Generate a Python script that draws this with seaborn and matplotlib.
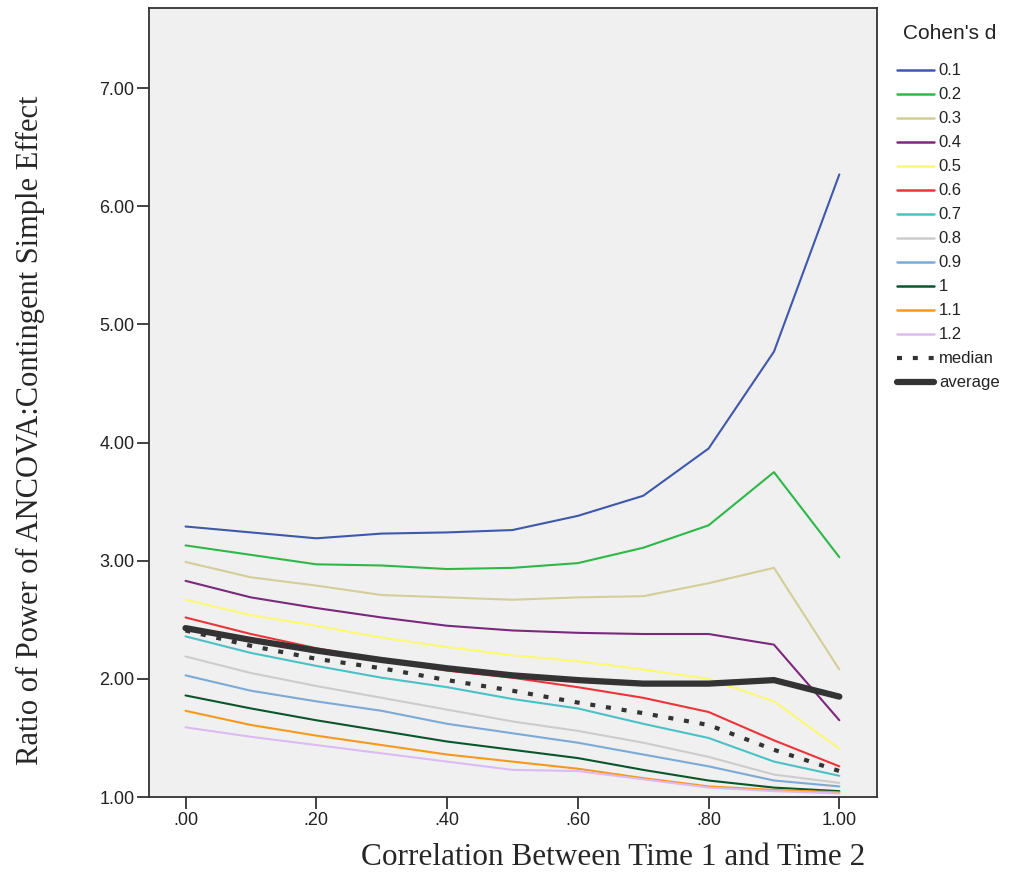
import numpy as np
import pandas as pd
import matplotlib
matplotlib.use("Agg")
import matplotlib.pyplot as plt
import seaborn as sns
from matplotlib.lines import Line2D
from matplotlib.ticker import FuncFormatter

correlation = [0.0, 0.1, 0.2, 0.3, 0.4, 0.5, 0.6, 0.7, 0.8, 0.9, 1.0]
cohens_d = ["0.1", "0.2", "0.3", "0.4", "0.5", "0.6", "0.7", "0.8", "0.9", "1", "1.1", "1.2"]

d01 = [3.29, 3.24, 3.19, 3.23, 3.24, 3.26, 3.38, 3.55, 3.95, 4.77, 6.27]
d02 = [3.13, 3.05, 2.97, 2.96, 2.93, 2.94, 2.98, 3.11, 3.30, 3.75, 3.03]
d03 = [2.99, 2.86, 2.79, 2.71, 2.69, 2.67, 2.69, 2.70, 2.81, 2.94, 2.08]
d04 = [2.83, 2.69, 2.60, 2.52, 2.45, 2.41, 2.39, 2.38, 2.38, 2.29, 1.65]
d05 = [2.67, 2.54, 2.45, 2.35, 2.27, 2.20, 2.15, 2.08, 2.00, 1.81, 1.41]
d06 = [2.52, 2.38, 2.26, 2.16, 2.07, 2.01, 1.93, 1.84, 1.72, 1.48, 1.26]
d07 = [2.36, 2.22, 2.11, 2.01, 1.93, 1.83, 1.75, 1.62, 1.50, 1.30, 1.18]
d08 = [2.19, 2.05, 1.94, 1.84, 1.74, 1.64, 1.56, 1.46, 1.34, 1.19, 1.12]
d09 = [2.03, 1.90, 1.81, 1.73, 1.62, 1.54, 1.46, 1.36, 1.26, 1.14, 1.09]
d10 = [1.86, 1.75, 1.65, 1.56, 1.47, 1.40, 1.33, 1.23, 1.14, 1.08, 1.05]
d11 = [1.73, 1.61, 1.52, 1.44, 1.36, 1.30, 1.24, 1.16, 1.09, 1.06, 1.04]
d12 = [1.59, 1.51, 1.44, 1.37, 1.30, 1.23, 1.22, 1.15, 1.08, 1.05, 1.03]
median = [2.41, 2.28, 2.17, 2.09, 1.99, 1.90, 1.80, 1.71, 1.61, 1.40, 1.22]
average = [2.43, 2.33, 2.24, 2.16, 2.09, 2.03, 1.99, 1.96, 1.96, 1.99, 1.85]

series = [d01, d02, d03, d04, d05, d06, d07, d08, d09, d10, d11, d12]
colors = ["#3E58AC", "#2EB848", "#D3CE97", "#7C287D", "#FBF873", "#EF3338",
          "#48C2C5", "#CCCCCC", "#7AAAD5", "#0A562C", "#F8981D", "#DDBAF1"]

rows = []
for lab, vals in zip(cohens_d, series):
    for x, v in zip(correlation, vals):
        rows.append({"r": x, "ratio": v, "d": lab})
df = pd.DataFrame(rows)
palette = dict(zip(cohens_d, colors))

sns.set_style("ticks", {"axes.facecolor": "#F0F0F0"})
plt.rcParams["font.family"] = ["Liberation Sans", "DejaVu Sans"]

fig = plt.figure(figsize=(10.13, 8.73), dpi=100)
ax = fig.add_axes([0.147, 0.087, 0.719, 0.904])

sns.lineplot(data=df, x="r", y="ratio", hue="d", palette=palette,
             hue_order=cohens_d, linewidth=1.5, ax=ax, legend=False)
sns.lineplot(x=correlation, y=median, color="#333333", linewidth=3.0,
             ax=ax, legend=False)
ax.lines[-1].set_dashes([1.2, 2.6])
ax.lines[-1].set_dash_capstyle("butt")
sns.lineplot(x=correlation, y=average, color="#333333", linewidth=4.5,
             ax=ax, legend=False)

ax.set_xlim(-0.056, 1.058)
ax.set_ylim(1.0, 7.68)
ax.set_xticks([0, 0.2, 0.4, 0.6, 0.8, 1.0])
ax.set_yticks([1, 2, 3, 4, 5, 6, 7])
ax.xaxis.set_major_formatter(FuncFormatter(lambda v, p: "1.00" if v >= 0.999 else ("%.2f" % v)[1:]))
ax.yaxis.set_major_formatter(FuncFormatter(lambda v, p: "%.2f" % v))
ax.tick_params(axis="both", labelsize=13, length=8.5, width=1.3, color="#333333",
               labelcolor="#222222", direction="out", pad=2)
for s in ax.spines.values():
    s.set_visible(True)
    s.set_color("#333333")
    s.set_linewidth(1.3)

ax.set_xlabel("Correlation Between Time 1 and Time 2", family=["Liberation Serif"],
              fontsize=22.5)
ax.xaxis.set_label_coords(0.638, -0.058)
ax.set_ylabel("Ratio of Power of ANCOVA:Contingent Simple Effect", family=["Liberation Serif"],
              fontsize=22)
ax.yaxis.set_label_coords(-0.142, 0.465)

handles = [Line2D([0], [0], color=c, lw=1.8) for c in colors]
hm = Line2D([0], [0], color="#333333", lw=3.0)
hm.set_dashes([1.2, 2.6])
handles.append(hm)
handles.append(Line2D([0], [0], color="#333333", lw=4.5))
labels = cohens_d + ["median", "average"]
fig.text(0.891, 0.962, "Cohen's d", fontsize=15, color="#222222", va="center", ha="left")
leg = fig.legend(handles, labels, loc="upper left",
                 bbox_to_anchor=(0.879, 0.935), frameon=False, fontsize=12,
                 handlelength=2.2, handletextpad=0.3,
                 labelspacing=0.54, borderaxespad=0)
for t in leg.get_texts():
    t.set_color("#222222")

fig.savefig("out.png", dpi=100)
